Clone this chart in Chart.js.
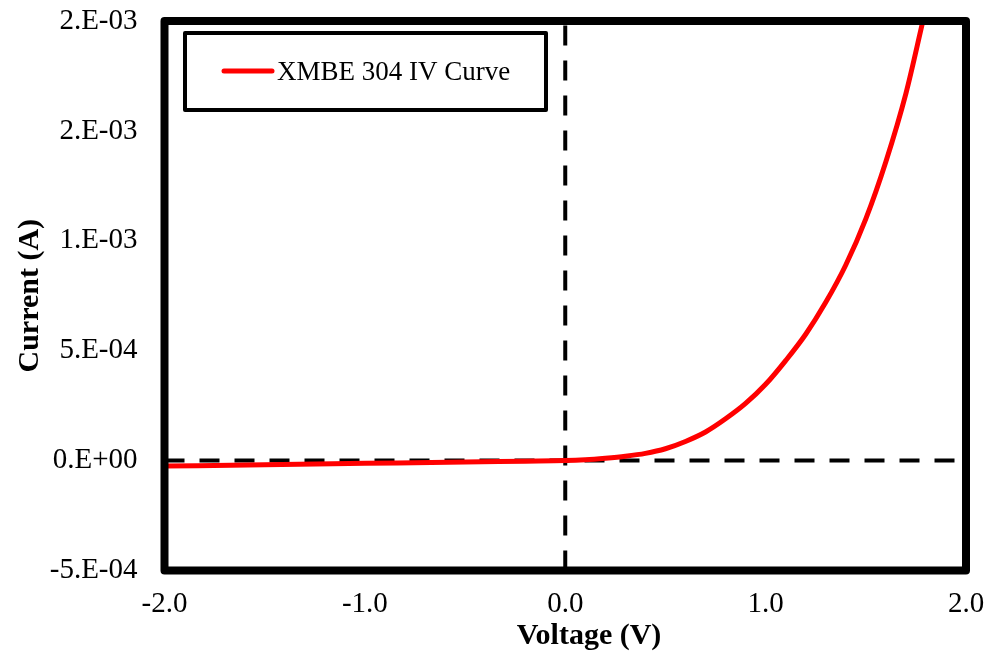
<!DOCTYPE html>
<html>
<head>
<meta charset="utf-8">
<script src="https://cdn.jsdelivr.net/npm/chart.js@4"></script>
<style>
  html, body { margin: 0; padding: 0; background: #fff; }
  #wrap { width: 990px; height: 652px; position: relative; }
</style>
</head>
<body>
<div id="wrap"><canvas id="ivChart"></canvas></div>
<script>
// voltage (V) and current (A)
var voltage = [-2.0, -1.5, -1.0, -0.5, -0.2, 0.0, 0.1, 0.2, 0.3, 0.4, 0.5, 0.6, 0.7, 0.8, 0.9, 1.0, 1.1, 1.2, 1.3, 1.4, 1.5, 1.6, 1.7, 1.785];
var current = [-2.5e-5, -1.9e-5, -1.25e-5, -6e-6, -2.5e-6, 0, 4e-6, 1.1e-5, 2.0e-5, 3.3e-5, 5.4e-5, 8.7e-5, 1.30e-4, 1.9e-4, 2.6e-4, 3.47e-4, 4.55e-4, 5.75e-4, 7.2e-4, 8.9e-4, 1.10e-3, 1.36e-3, 1.67e-3, 2.0e-3];

// reference lines at V = 0 and I = 0
var zeroLineX = [-2, 2];
var zeroLineY = [0, 0];
var zeroVLineX = [0, 0];
var zeroVLineY = [-5e-4, 2e-3];

var xTicks = [-2.0, -1.0, 0.0, 1.0, 2.0];
var yTickLabels = ['-5.E-04', '0.E+00', '5.E-04', '1.E-03', '2.E-03', '2.E-03'];

function toPoints(xs, ys) {
    return xs.map(function (x, i) { return { x: x, y: ys[i] }; });
}

var serif = "'Liberation Serif', 'Times New Roman', serif";

// thick frame around the plot plus the boxed legend
var framePlugin = {
    id: 'frame',
    afterDraw: function (chart) {
        var ctx = chart.ctx;
        var a = chart.chartArea;
        ctx.save();
        ctx.strokeStyle = '#000';
        ctx.lineJoin = 'round';
        ctx.lineWidth = 8;
        ctx.strokeRect(a.left, a.top, a.right - a.left, a.bottom - a.top);

        // legend box
        ctx.lineWidth = 4;
        ctx.strokeRect(185, 33, 361, 77);
        var ds = chart.data.datasets[0];
        ctx.strokeStyle = ds.borderColor;
        ctx.lineWidth = 5;
        ctx.lineCap = 'round';
        ctx.beginPath();
        ctx.moveTo(224, 71);
        ctx.lineTo(272, 71);
        ctx.stroke();
        ctx.fillStyle = '#000';
        ctx.font = '27px ' + serif;
        ctx.textBaseline = 'alphabetic';
        ctx.fillText(ds.label, 277, 80);

        // x axis title, sits a little right of centre in the original
        ctx.font = 'bold 30px ' + serif;
        ctx.textAlign = 'center';
        ctx.fillText('Voltage (V)', 589, 644);
        ctx.restore();
    }
};

new Chart(document.getElementById('ivChart').getContext('2d'), {
    type: 'line',
    data: {
        datasets: [{
            label: 'XMBE 304 IV Curve',
            data: toPoints(voltage, current),
            borderColor: '#ff0000',
            borderWidth: 5,
            pointRadius: 0,
            cubicInterpolationMode: 'monotone',
            fill: false
        }, {
            label: 'zeroI',
            data: toPoints(zeroLineX, zeroLineY),
            borderColor: '#000',
            borderWidth: 4,
            borderDash: [20, 15],
            pointRadius: 0,
            fill: false
        }, {
            label: 'zeroV',
            data: toPoints(zeroVLineX, zeroVLineY),
            borderColor: '#000',
            borderWidth: 4,
            borderDash: [20, 15],
            pointRadius: 0,
            fill: false
        }]
    },
    options: {
        responsive: true,
        maintainAspectRatio: false,
        animation: false,
        layout: { padding: { top: 21, right: 24, left: 0, bottom: 0 } },
        plugins: {
            legend: { display: false },
            tooltip: { enabled: false }
        },
        scales: {
            x: {
                type: 'linear',
                min: -2,
                max: 2,
                afterFit: function (scale) {
                    scale.height = 81.5;
                    scale.paddingLeft = 0;
                    scale.paddingRight = 0;
                },
                afterBuildTicks: function (scale) {
                    scale.ticks = xTicks.map(function (v) { return { value: v }; });
                },
                grid: { display: false, drawTicks: false },
                border: { display: false },
                ticks: {
                    color: '#000',
                    padding: 16,
                    font: { family: serif, size: 29 },
                    callback: function (v) { return Number(v).toFixed(1); }
                },
                title: { display: false }
            },
            y: {
                type: 'linear',
                min: -5e-4,
                max: 2e-3,
                afterFit: function (scale) {
                    scale.width = 164.5;
                    scale.paddingTop = 0;
                    scale.paddingBottom = 0;
                },
                ticks: {
                    stepSize: 5e-4,
                    color: '#000',
                    padding: 27,
                    font: { family: serif, size: 29 },
                    callback: function (v, i) { return yTickLabels[i]; }
                },
                grid: { display: false, drawTicks: false },
                border: { display: false },
                title: {
                    display: true,
                    text: 'Current (A)',
                    color: '#000',
                    padding: { top: 12, bottom: 0 },
                    font: { family: serif, size: 30, weight: 'bold' }
                }
            }
        }
    },
    plugins: [framePlugin]
});
</script>
</body>
</html>
